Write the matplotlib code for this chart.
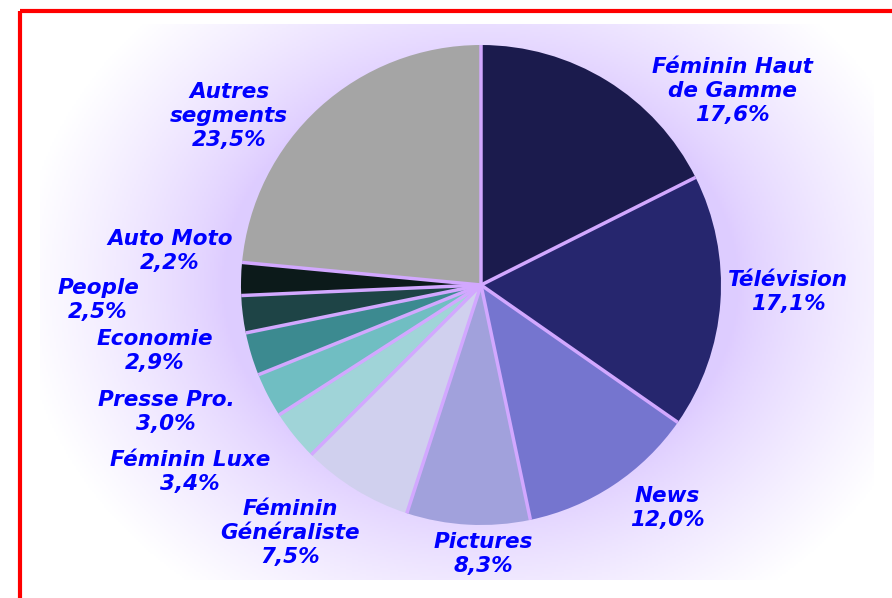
import matplotlib.pyplot as plt
import numpy as np

labels = ["Féminin Haut\nde Gamme", "Télévision", "News", "Pictures",
          "Féminin\nGénéraliste", "Féminin Luxe", "Presse Pro.", "Economie",
          "People", "Auto Moto", "Autres\nsegments"]
values = [17.6, 17.1, 12.0, 8.3, 7.5, 3.4, 3.0, 2.9, 2.5, 2.2, 23.5]
pct_text = ["17,6%", "17,1%", "12,0%", "8,3%", "7,5%", "3,4%", "3,0%",
            "2,9%", "2,5%", "2,2%", "23,5%"]
colors = ["#1b1b4d", "#26266e", "#7575cf", "#a1a1dc", "#d0d0ee", "#a0d4d8",
          "#70bec2", "#3c8a90", "#1e4446", "#0c1a1a", "#a5a5a5"]

# label centres in pixel coords (x, y from top)
label_pos = [(732, 91), (788, 292), (667, 508), (483, 554), (290, 533),
             (190, 472), (166, 412), (155, 351), (98, 300), (170, 251),
             (229, 116)]

W, H = 892, 598
fig = plt.figure(figsize=(W / 100, H / 100), dpi=100)
ax = fig.add_axes([0, 0, 1, 1])

cx, cy, r = 481, H - 285, 240

# soft purple glow behind the pie
xx, yy = np.meshgrid(np.linspace(0, W, 446), np.linspace(0, H, 299))
d = np.sqrt(((xx - cx) / 1.2) ** 2 + (yy - cy) ** 2)
t = np.clip((d - 215) / 170, 0, 1) ** 0.8
img = np.ones((299, 446, 3))
base = np.array([0.87, 0.80, 1.0])
for k in range(3):
    img[..., k] = base[k] + (1 - base[k]) * t
box = (xx > 40) & (xx < 875) & (yy > 18) & (yy < 575)
img[~box] = 1
ax.imshow(img, extent=(0, W, 0, H), origin='lower', zorder=0, aspect='auto')

wedges, _ = ax.pie(values, colors=colors, startangle=90, counterclock=False,
                   center=(cx, cy), radius=r, frame=True,
                   wedgeprops=dict(linewidth=0, zorder=2))
# light purple separators along the radial edges only
for w in wedges:
    a = np.deg2rad(w.theta1)
    x0, y0 = w.center
    ax.plot([x0, x0 + w.r * np.cos(a)], [y0, y0 + w.r * np.sin(a)],
            color="#d2a8ff", lw=2.5, solid_capstyle='butt', zorder=3)

ax.set_xlim(0, W)
ax.set_ylim(0, H)
ax.axis('off')

for lab, p, (px, py) in zip(labels, pct_text, label_pos):
    ax.text(px, H - py, lab + "\n" + p, ha='center', va='center',
            color='#0000ff', fontsize=15.5, fontweight='bold', style='italic',
            linespacing=1.22, zorder=5)

# red frame
ax.plot([20, 20], [0, H - 11], color='red', lw=3, solid_capstyle='butt', zorder=6)
ax.plot([20, W], [H - 11, H - 11], color='red', lw=3, solid_capstyle='butt', zorder=6)

fig.savefig("out.png", dpi=100)
